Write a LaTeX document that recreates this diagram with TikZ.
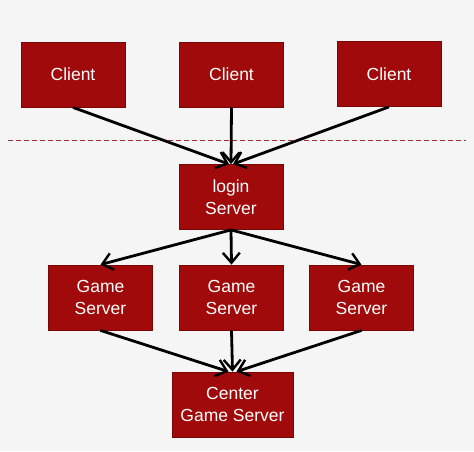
\documentclass[tikz,border=0pt]{standalone}
\usepackage{fontspec}
\setmainfont{Liberation Sans}
\usetikzlibrary{arrows.meta}
\definecolor{boxred}{HTML}{A00A0A}
\definecolor{boxedge}{HTML}{7A0606}
\definecolor{dashred}{HTML}{A03030}
\definecolor{bgpaper}{HTML}{F5F5F5}

\begin{document}
\begin{tikzpicture}[x=1pt,y=-1pt,
  box/.style={draw=boxedge,fill=boxred,line width=0.8pt,text=white,
    minimum width=104pt,minimum height=65pt,align=center,
    font=\fontsize{17.5}{21.5}\selectfont},
  link/.style={-{Straight Barb[length=10pt,width=17pt,line width=2.4pt]},line width=2.8pt,black}]
\fill[bgpaper] (0,0) rectangle (474,451);
\useasboundingbox (0,0) rectangle (474,451);
\node[box] (c1) at (73,74.5) {Client};
\node[box] (c2) at (231.5,74.5) {Client};
\node[box] (c3) at (389,74) {Client};
\node[box] (login) at (231,197) {login\\Server};
\node[box] (g1) at (100.5,297.5) {Game\\Server};
\node[box] (g2) at (231.5,297.5) {Game\\Server};
\node[box] (g3) at (361.5,297.5) {Game\\Server};
\node[box,minimum width=121pt] (center) at (232.5,404.5) {Center\\Game Server};
% client / server boundary
\coordinate (cutl) at (8,140);
\coordinate (cutr) at (466,140);
\draw[dashred,line width=0.8pt,dash pattern=on 5pt off 3pt] (cutl) -- (cutr);
\draw[link] (c1.south) -- ([xshift=-2pt]login.north);
\draw[link] (c2.south) -- (login.north);
\draw[link] (c3.south) -- ([xshift=2pt]login.north);
\draw[link] (login.south) -- (g1.north);
\draw[link] (login.south) -- (g2.north);
\draw[link] (login.south) -- (g3.north);
\draw[link] (g1.south) -- ([xshift=-4pt]center.north);
\draw[link] (g2.south) -- (center.north);
\draw[link] (g3.south) -- ([xshift=4pt]center.north);
\end{tikzpicture}
\end{document}
